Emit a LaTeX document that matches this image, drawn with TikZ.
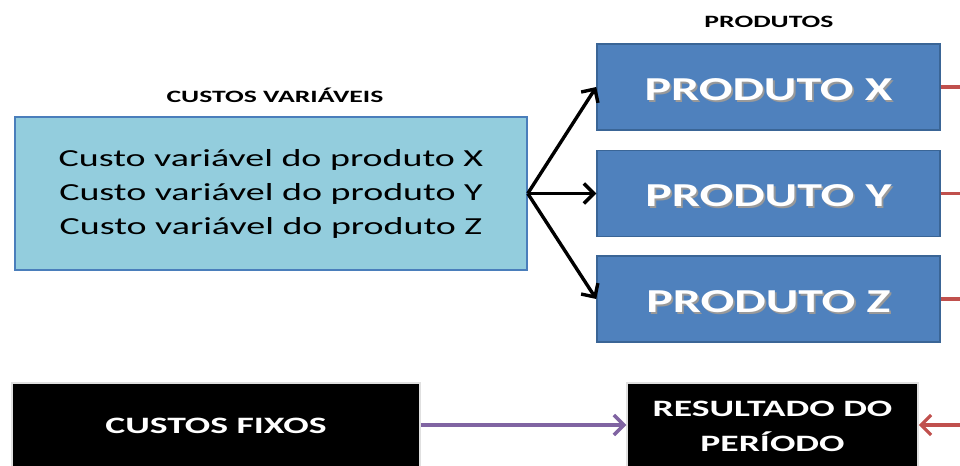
\documentclass[tikz,border=0pt]{standalone}
\usepackage{fontspec}
\setmainfont{Carlito}
\newfontfamily\bodywide{Carlito}[FakeStretch=1.55]
\newfontfamily\headwide{Carlito}[FakeStretch=1.6,BoldFont={Carlito Bold}]
\newfontfamily\prodwide{Carlito}[FakeStretch=1.49,BoldFont={Carlito Bold}]
\newfontfamily\fixwide{Carlito}[FakeStretch=1.6,BoldFont={Carlito Bold}]
\usetikzlibrary{arrows.meta}
\definecolor{lightfill}{HTML}{93CDDD}
\definecolor{lightedge}{HTML}{4A7EBB}
\definecolor{prodfill}{HTML}{4F81BD}
\definecolor{prodedge}{HTML}{3A6596}
\definecolor{redline}{HTML}{C0504D}
\definecolor{purpleline}{HTML}{8064A2}
% white lettering with a soft drop shadow
\newcommand{\shadowed}[1]{{\color{black!40}\rlap{\hspace{1.8pt}\raisebox{-1.8pt}{#1}}}#1}
% capitals centred 2.5bp below the middle of the box
\newcommand{\prodlabel}[1]{\raisebox{-13.3bp}[0pt][0pt]{\shadowed{#1}}}
\tikzset{
  varbox/.style={draw=lightedge, line width=1.5bp, fill=lightfill, minimum width=512bp, minimum height=153bp, inner sep=0pt,
    align=center, font=\bodywide\fontsize{24.5bp}{34bp}\selectfont},
  prodbox/.style={draw=prodedge, line width=1.5bp, fill=prodfill, minimum width=343bp, minimum height=86bp, inner sep=0pt,
    text=white, font=\prodwide\bfseries\fontsize{33.5bp}{36bp}\selectfont},
  darkbox/.style={draw=black!12, line width=1.5bp, fill=black, inner sep=0pt, text=white, align=center,
    font=\fixwide\bfseries\fontsize{23.5bp}{35bp}\selectfont},
  heading/.style={inner sep=0pt, font=\headwide\bfseries\fontsize{17.3bp}{20bp}\selectfont},
  barb/.style={-{Straight Barb[length=10bp,width=20bp,line width=#1]}},
  feed/.style={black, line width=3.4bp, barb=3.4bp},
  redlink/.style={redline, line width=3.2bp},
}
\begin{document}
\begin{tikzpicture}[x=1bp, y=-1bp]
\useasboundingbox (0,0) rectangle (960,466);
\clip (0,0) rectangle (960,466);

% variable costs
\node[heading] (cvlabel) at (275,95) {CUSTOS VARIÁVEIS};
\node[varbox] (cv) at (271,193.5) {Custo variável do produto X\\Custo variável do produto Y\\Custo variável do produto Z};

% products
\node[heading] (plabel) at (769,22) {PRODUTOS};
\node[prodbox] (px) at (768.5,87) {\prodlabel{PRODUTO X}};
\node[prodbox] (py) at (768.5,193.5) {\prodlabel{PRODUTO Y}};
\node[prodbox] (pz) at (768.5,299) {\prodlabel{PRODUTO Z}};

% fixed costs and result (boxes run past the lower edge)
\node[darkbox, minimum width=408bp, minimum height=86bp] (cf) at (216,426) {CUSTOS FIXOS};
\node[darkbox, minimum width=291bp, minimum height=86bp] (res) at (772.5,426) {RESULTADO DO\\PERÍODO};

% connectors
\draw[feed] (cv.east) -- (px.west);
\draw[feed] (cv.east) -- (py.west);
\draw[feed] (cv.east) -- (pz.west);

\coordinate (rx) at (980,87);
\coordinate (ry) at (980,193.5);
\coordinate (rz) at (980,299);
\coordinate (rr) at (980,425);
\draw[redlink] (px.east) -- (rx);
\draw[redlink] (py.east) -- (ry);
\draw[redlink] (pz.east) -- (rz);
\draw[redlink, barb=3.2bp] (rr) -- (res.east |- rr);

\draw[purpleline, line width=3.4bp, barb=3.4bp] (cf.east |- 0,425) -- (res.west |- 0,425);
\end{tikzpicture}
\end{document}
